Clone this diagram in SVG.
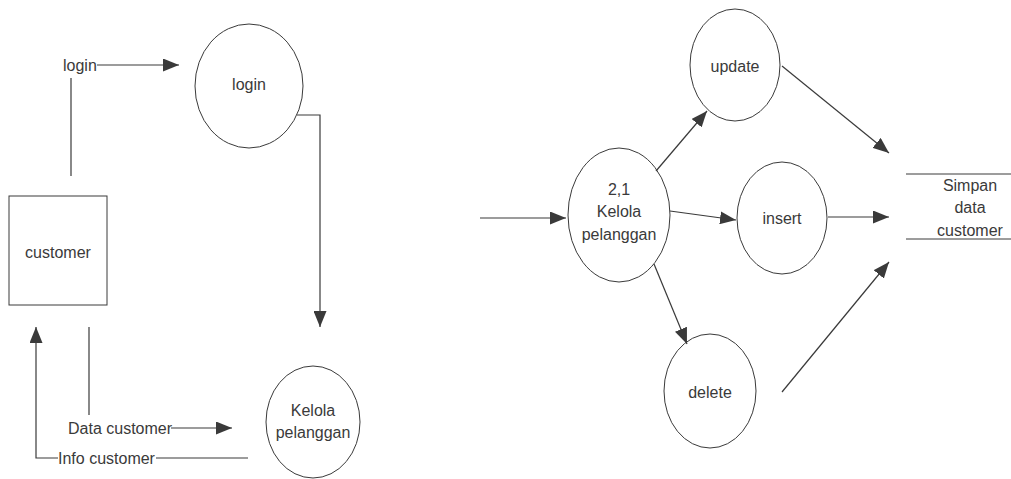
<svg xmlns="http://www.w3.org/2000/svg" width="1011" height="479" viewBox="0 0 1011 479">
<style>
.n{fill:none;stroke:#3a3a3a;stroke-width:1}
.c{fill:none;stroke:#3a3a3a;stroke-width:1.2}
.a{marker-end:url(#ah)}
text{font-family:"Liberation Sans",Arial,sans-serif;font-size:16px;fill:#3a3a3a;text-anchor:middle}
.l{text-anchor:start}
</style>
<defs>
<marker id="ah" markerUnits="userSpaceOnUse" markerWidth="17" markerHeight="13" refX="16" refY="6.5" orient="auto">
<path d="M0,0 L16,6.5 L0,13 Z" fill="#3a3a3a"/>
</marker>
</defs>
<rect width="1011" height="479" fill="#fff"/>
<g id="connectors">
<line class="c a" x1="97" y1="65" x2="179" y2="65"/>
<line class="c" x1="71" y1="78" x2="71" y2="176"/>
<polyline class="c a" points="297,115 320,115 320,327"/>
<line class="c" x1="89" y1="327" x2="89" y2="415"/>
<line class="c a" x1="171" y1="428" x2="232" y2="428"/>
<polyline class="c a" points="58,458 36,458 36,327"/>
<line class="c" x1="156" y1="458" x2="248" y2="458"/>
<line class="c a" x1="480" y1="218" x2="566" y2="218"/>
<line class="c a" x1="656" y1="171" x2="707" y2="111"/>
<line class="c a" x1="670" y1="211" x2="736" y2="220"/>
<line class="c a" x1="654" y1="264" x2="687" y2="344"/>
<line class="c a" x1="782" y1="66" x2="889" y2="153"/>
<line class="c a" x1="828" y1="217" x2="889" y2="217"/>
<line class="c a" x1="782" y1="392" x2="889" y2="262"/>
</g>
<text class="l" x="63" y="71">login</text>
<text class="l" x="68" y="434">Data customer</text>
<text class="l" x="58" y="464">Info customer</text>
<g id="login">
<ellipse class="n" cx="249" cy="86" rx="54" ry="62"/>
<text x="249" y="90">login</text>
</g>
<g id="customer">
<rect class="n" x="9" y="196" width="98" height="109"/>
<text x="58" y="258">customer</text>
</g>
<g id="kelola">
<ellipse class="n" cx="313" cy="422" rx="47" ry="56"/>
<text x="313" y="416">Kelola</text>
<text x="313" y="438">pelanggan</text>
</g>
<g id="kelola21">
<ellipse class="n" cx="619" cy="215" rx="51" ry="67"/>
<text x="619" y="195">2,1</text>
<text x="619" y="217">Kelola</text>
<text x="619" y="240">pelanggan</text>
</g>
<g id="update">
<ellipse class="n" cx="735" cy="65" rx="45" ry="56"/>
<text x="735" y="72">update</text>
</g>
<g id="insert">
<ellipse class="n" cx="782" cy="218" rx="45" ry="56"/>
<text x="782" y="224">insert</text>
</g>
<g id="delete">
<ellipse class="n" cx="710" cy="391" rx="46" ry="57"/>
<text x="710" y="398">delete</text>
</g>
<g id="store">
<line class="n" x1="906" y1="174" x2="1011" y2="174"/>
<line class="n" x1="906" y1="239" x2="1011" y2="239"/>
<text x="970" y="191">Simpan</text>
<text x="970" y="213">data</text>
<text x="970" y="236">customer</text>
</g>
</svg>
